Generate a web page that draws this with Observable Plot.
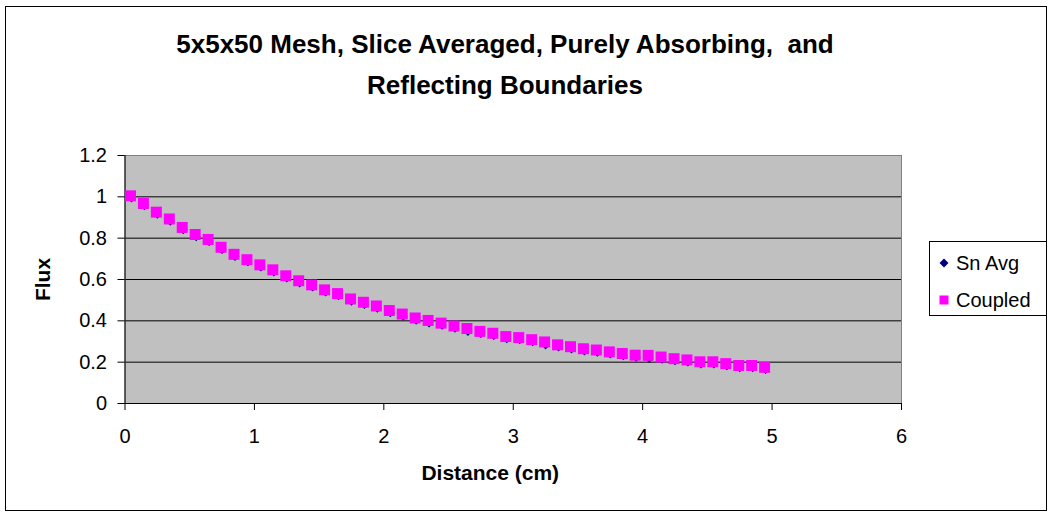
<!DOCTYPE html>
<html>
<head>
<meta charset="utf-8">
<script src="https://cdn.jsdelivr.net/npm/d3@7"></script>
<script src="https://cdn.jsdelivr.net/npm/@observablehq/plot@0.6"></script>
<style>
  html, body { margin: 0; padding: 0; background: #fff; }
  #chart { position: relative; width: 1054px; height: 517px; font-family: "Liberation Sans", Arial, sans-serif; }
  #border { position: absolute; left: 5px; top: 6px; width: 1042px; height: 505px; border: 1px solid #000; box-sizing: border-box; pointer-events: none; }
  #title { position: absolute; left: 0; top: 24px; width: 1010px; text-align: center; font-weight: bold; font-size: 26px; line-height: 41px; color: #000; }
  #legend { position: absolute; left: 929px; top: 241px; width: 118px; height: 75px; border: 1px solid #000; box-sizing: border-box; background: #fff; font-size: 20px; color: #000; }
  #legend .item { position: absolute; left: 8px; display: flex; align-items: center; height: 24px; }
  #legend svg { margin-right: 6px; }
  #plot { position: absolute; left: 0; top: 0; }
</style>
</head>
<body>
<div id="chart">
  <div id="plot"></div>
  <div id="title"></div>
  <div id="legend"></div>
  <div id="border"></div>
</div>
<script>
const titleLines = ["5x5x50 Mesh, Slice Averaged, Purely Absorbing,  and", "Reflecting Boundaries"];
const xLabel = "Distance (cm)";
const yLabel = "Flux";
const seriesNames = ["Sn Avg", "Coupled"];
const xTicks = [0, 1, 2, 3, 4, 5, 6];
const yTicks = [0, 0.2, 0.4, 0.6, 0.8, 1, 1.2];

const distance = [0.05, 0.15, 0.25, 0.35, 0.45, 0.55, 0.65, 0.75, 0.85, 0.95,
  1.05, 1.15, 1.25, 1.35, 1.45, 1.55, 1.65, 1.75, 1.85, 1.95,
  2.05, 2.15, 2.25, 2.35, 2.45, 2.55, 2.65, 2.75, 2.85, 2.95,
  3.05, 3.15, 3.25, 3.35, 3.45, 3.55, 3.65, 3.75, 3.85, 3.95,
  4.05, 4.15, 4.25, 4.35, 4.45, 4.55, 4.65, 4.75, 4.85, 4.95];

const snAvg = [0.994, 0.957, 0.915, 0.882, 0.841, 0.807, 0.783, 0.745, 0.711, 0.685,
  0.660, 0.636, 0.607, 0.583, 0.563, 0.539, 0.521, 0.495, 0.479, 0.461,
  0.439, 0.422, 0.403, 0.389, 0.378, 0.364, 0.348, 0.338, 0.329, 0.313,
  0.308, 0.298, 0.283, 0.273, 0.264, 0.254, 0.248, 0.239, 0.231, 0.223,
  0.218, 0.214, 0.206, 0.200, 0.191, 0.191, 0.182, 0.173, 0.173, 0.164];

const coupled = [1.000, 0.963, 0.921, 0.888, 0.847, 0.813, 0.789, 0.751, 0.717, 0.691,
  0.666, 0.642, 0.613, 0.589, 0.569, 0.545, 0.527, 0.501, 0.485, 0.467,
  0.445, 0.428, 0.409, 0.397, 0.384, 0.370, 0.358, 0.344, 0.335, 0.319,
  0.314, 0.304, 0.293, 0.279, 0.270, 0.260, 0.254, 0.245, 0.237, 0.229,
  0.228, 0.220, 0.212, 0.206, 0.197, 0.197, 0.188, 0.179, 0.179, 0.170];

const colors = ["#000080", "#ff00ff"];

const table = distance.map((d, i) => ({distance: d, snAvg: snAvg[i], coupled: coupled[i]}));

const fontFamily = '"Liberation Sans", Arial, sans-serif';

const plot = Plot.plot({
  width: 1054,
  height: 517,
  marginLeft: 124.5,
  marginRight: 153,
  marginTop: 155,
  marginBottom: 114,
  style: {fontFamily, fontSize: "20px", color: "#000", background: "transparent"},
  x: {domain: [0, 6]},
  y: {domain: [0, 1.2]},
  marks: [
    Plot.frame({fill: "#c0c0c0", stroke: "none"}),
    Plot.gridY(yTicks, {stroke: "#000", strokeOpacity: 1, strokeWidth: 1}),
    Plot.frame({stroke: "#808080", fill: "none"}),
    Plot.axisY({ticks: yTicks, tickSize: 7, tickPadding: 11, tickFormat: d => String(d), label: null, fontSize: 20}),
    Plot.axisX({ticks: xTicks, tickSize: 7, tickPadding: 18, tickFormat: d => String(d), label: null, fontSize: 20}),
    Plot.ruleX([0], {stroke: "#000"}),
    Plot.ruleY([0], {stroke: "#000"}),
    Plot.dot(table, {x: "distance", y: "snAvg", symbol: "diamond2", r: 4, fill: colors[0], stroke: "none"}),
    Plot.dot(table, {x: "distance", y: "coupled", symbol: "square", r: 6.2, fill: colors[1], stroke: "none", dx: -1, dy: -1}),
    Plot.text([yLabel], {text: d => d, frameAnchor: "left", dx: -82, rotate: -90, fontWeight: "bold", fontSize: 21, textAnchor: "middle", lineAnchor: "middle"}),
    Plot.text([xLabel], {text: d => d, frameAnchor: "bottom", dx: -23, dy: 70, fontWeight: "bold", fontSize: 21, textAnchor: "middle", lineAnchor: "middle"})
  ]
});
document.getElementById("plot").appendChild(plot);

const title = document.getElementById("title");
titleLines.forEach(t => {
  const div = document.createElement("div");
  div.textContent = t;
  div.style.whiteSpace = "pre";
  title.appendChild(div);
});

const legend = document.getElementById("legend");
const markers = [
  '<svg width="12" height="12" viewBox="-6 -6 12 12"><path d="M0,-4.5L4.5,0L0,4.5L-4.5,0Z" fill="' + colors[0] + '"/></svg>',
  '<svg width="12" height="12" viewBox="-6 -6 12 12"><rect x="-4.5" y="-4.5" width="9" height="9" fill="' + colors[1] + '"/></svg>'
];
const tops = [9, 46];
seriesNames.forEach((name, i) => {
  const item = document.createElement("div");
  item.className = "item";
  item.style.top = tops[i] + "px";
  item.innerHTML = markers[i];
  const span = document.createElement("span");
  span.textContent = name;
  item.appendChild(span);
  legend.appendChild(item);
});
</script>
</body>
</html>
